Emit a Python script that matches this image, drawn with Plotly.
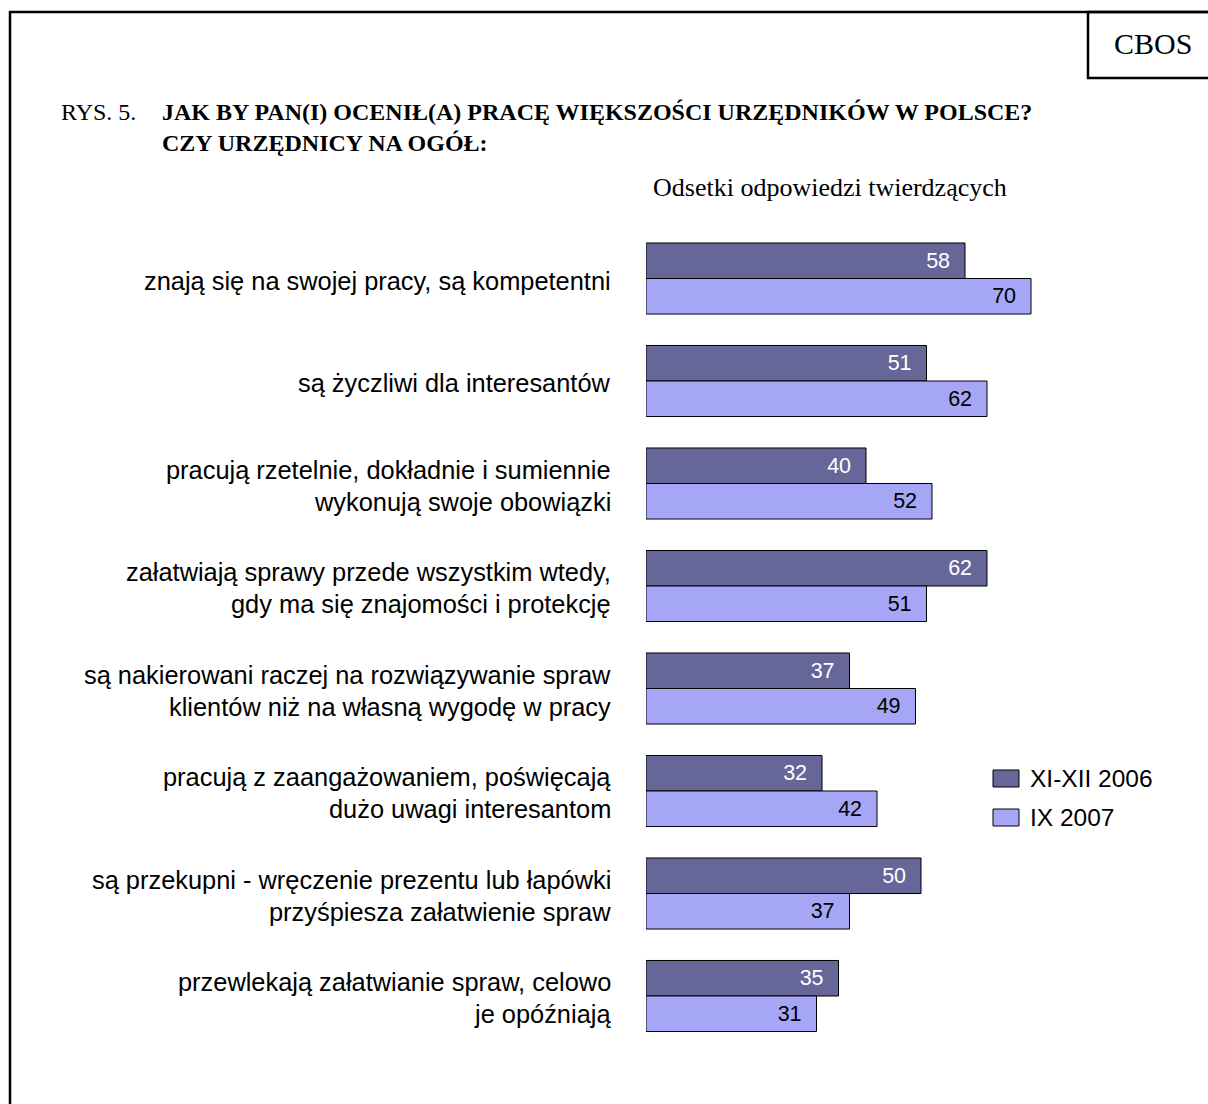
import plotly.graph_objects as go

W, H = 1208, 1104

CATEGORIES = [
    "znają się na swojej pracy, są kompetentni",
    "są życzliwi dla interesantów",
    "pracują rzetelnie, dokładnie i sumiennie<br>wykonują swoje obowiązki",
    "załatwiają sprawy przede wszystkim wtedy,<br>gdy ma się znajomości i protekcję",
    "są nakierowani raczej na rozwiązywanie spraw<br>klientów niż na własną wygodę w pracy",
    "pracują z zaangażowaniem, poświęcają<br>dużo uwagi interesantom",
    "są przekupni - wręczenie prezentu lub łapówki<br>przyśpiesza załatwienie spraw",
    "przewlekają załatwianie spraw, celowo<br>je opóźniają",
]
SERIES_NAMES = ["XI-XII 2006", "IX 2007"]
VALUES_2006 = [58, 51, 40, 62, 37, 32, 50, 35]
VALUES_2007 = [70, 62, 52, 51, 49, 42, 37, 31]

COLORS = ["#666699", "#A6A6F6"]
TEXT_COLORS = ["white", "black"]

TITLE_PREFIX = "RYS. 5."
TITLE_LINES = ["JAK BY PAN(I) OCENIŁ(A) PRACĘ WIĘKSZOŚCI URZĘDNIKÓW W POLSCE?",
               "CZY URZĘDNICY NA OGÓŁ:"]
SUBTITLE = "Odsetki odpowiedzi twierdzących"
SOURCE = "CBOS"

SANS = "Liberation Sans, Arial, sans-serif"
SERIF = "Liberation Serif, Times New Roman, serif"


def px(x):
    return x / W


def py(y):
    return 1 - y / H


fig = go.Figure()
for name, vals, col, tcol in zip(SERIES_NAMES, [VALUES_2006, VALUES_2007], COLORS, TEXT_COLORS):
    fig.add_trace(go.Bar(
        y=CATEGORIES, x=vals, orientation="h", name=name,
        marker=dict(color=col, line=dict(color="black", width=1)),
        texttemplate="%{x}\u00a0\u00a0", textposition="inside",
        insidetextanchor="end", textangle=0,
        textfont=dict(color=tcol, size=21.5, family=SANS),
        showlegend=False, hoverinfo="skip",
    ))

annotations = []
# category labels (per line for exact line spacing)
LINE_STEP = 32
for cat in CATEGORIES:
    lines = cat.split("<br>")
    n = len(lines)
    for i, ln in enumerate(lines):
        shift = ((n - 1) / 2 - i) * LINE_STEP - 2
        annotations.append(dict(
            x=px(613), xref="paper", y=cat, yref="y", text=ln, showarrow=False,
            xanchor="right", yanchor="middle", yshift=shift,
            font=dict(size=25.4, family=SANS, color="black")))

# title
annotations.append(dict(x=px(59), y=py(112), xref="paper", yref="paper", text=TITLE_PREFIX,
                        showarrow=False, xanchor="left", yanchor="middle",
                        font=dict(size=24, family=SERIF, color="black")))
for i, t in enumerate(TITLE_LINES):
    annotations.append(dict(x=px(160), y=py(112 + i * 31), xref="paper", yref="paper",
                            text="<b>" + t + "</b>", showarrow=False, xanchor="left",
                            yanchor="middle", font=dict(size=24, family=SERIF, color="black")))
annotations.append(dict(x=px(651), y=py(187), xref="paper", yref="paper", text=SUBTITLE,
                        showarrow=False, xanchor="left", yanchor="middle",
                        font=dict(size=26, family=SERIF, color="black")))
annotations.append(dict(x=px(1153), y=py(43), xref="paper", yref="paper", text=SOURCE,
                        showarrow=False, xanchor="center", yanchor="middle",
                        font=dict(size=30, family=SERIF, color="black")))

shapes = [
    dict(type="rect", xref="paper", yref="paper", x0=px(10), x1=px(1230), y0=py(12), y1=py(1130),
         line=dict(color="black", width=2.5), fillcolor="rgba(0,0,0,0)"),
    dict(type="rect", xref="paper", yref="paper", x0=px(1088), x1=px(1230), y0=py(12), y1=py(78),
         line=dict(color="black", width=2.5), fillcolor="rgba(0,0,0,0)"),
]

# legend
LEG_Y = [778.5, 817.5]
for name, col, ly in zip(SERIES_NAMES, COLORS, LEG_Y):
    shapes.append(dict(type="rect", xref="paper", yref="paper", x0=px(993), x1=px(1019),
                       y0=py(ly - 8.5), y1=py(ly + 8.5), fillcolor=col,
                       line=dict(color="black", width=1)))
    annotations.append(dict(x=px(1028), y=py(ly), xref="paper", yref="paper", text=name,
                            showarrow=False, xanchor="left", yanchor="middle",
                            font=dict(size=24.5, family=SANS, color="black")))

Y_TOP, Y_BOT = 227.25, 1047.25
fig.update_layout(
    width=W, height=H,
    margin=dict(l=0, r=0, t=0, b=0),
    paper_bgcolor="white", plot_bgcolor="white",
    barmode="group", bargap=0.307, bargroupgap=0,
    xaxis=dict(domain=[px(646), px(1196)], range=[0, 100], visible=False, fixedrange=True),
    yaxis=dict(domain=[py(Y_BOT), py(Y_TOP)], autorange="reversed", visible=False,
               categoryorder="array", categoryarray=CATEGORIES, fixedrange=True),
    annotations=annotations,
    shapes=shapes,
    showlegend=False,
)

fig.write_html("out.html", config={"displayModeBar": False},
               post_script="document.body.style.margin='0';document.body.style.overflow='hidden';")
